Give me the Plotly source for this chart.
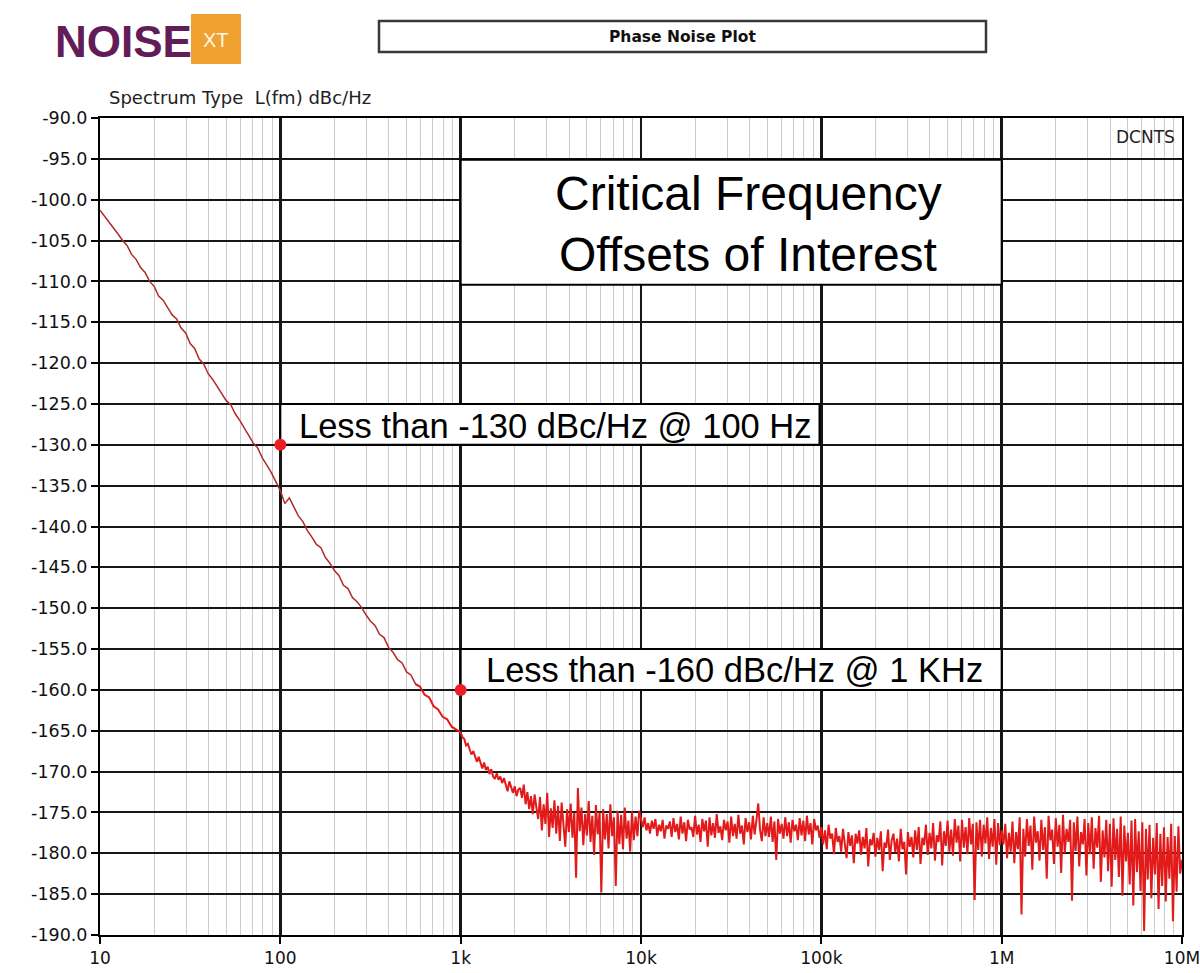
import numpy as np
import plotly.graph_objects as go

# ---------------- data ----------------
# L(fm) in dBc/Hz, sampled on an even log grid inside each decade
level_10_100 = [
    -101.3, -102.0, -102.8, -103.4, -104.2, -105.0, -105.6, -106.7, -107.3, -108.3,
    -108.9, -110.0, -110.6, -111.8, -112.3, -113.2, -114.1, -114.6, -115.7, -116.3,
    -117.6, -118.2, -119.5, -120.1, -121.3, -122.0, -122.9, -123.7, -124.6, -125.1,
    -126.2, -127.0, -127.9, -128.8, -129.8, -130.4, -131.6, -132.5, -133.4, -134.5,
]
level_100_1k = [
    -135.6, -137.2, -136.5, -137.6, -138.7, -139.4, -140.5, -141.3, -142.2, -142.6,
    -143.8, -144.5, -145.4, -146.0, -147.2, -147.6, -148.7, -149.2, -149.9, -150.8,
    -151.6, -152.1, -153.2, -153.6, -154.8, -155.4, -156.3, -156.7, -157.8, -158.2,
    -159.3, -159.6, -160.6, -160.9, -162.0, -162.4, -163.3, -163.6, -164.5, -164.8,
]
level_1k_10k = [
    -165.2, -165.8, -166.0, -166.8, -166.6, -167.3, -167.9, -167.5, -168.3, -168.8,
    -168.2, -169.0, -169.6, -168.9, -169.8, -169.4,
    -170.3, -169.7, -170.6, -170.9, -170.2, -171.0, -170.6, -171.4, -170.8, -171.6,
    -172.4, -171.2, -171.9, -172.6, -171.8, -173.0, -172.2, -172.0,
    -173.2, -171.6, -174.0, -172.5, -174.6, -173.0, -175.2, -172.8, -174.4,
    -175.8, -173.1, -177.2, -174.0, -176.4, -172.6, -178.0, -174.5, -176.9, -173.5,
    -177.6, -174.2, -178.5, -173.8, -176.2, -179.2, -174.6, -177.4,
    -173.9, -178.1, -175.0, -183.0, -172.0, -177.3, -174.4, -179.0, -175.2, -177.8,
    -173.6, -178.6, -175.4, -180.2, -174.1, -177.7, -175.0, -184.8, -174.6, -178.3,
    -175.2, -179.4, -174.0, -177.9, -175.6, -184.0, -174.8, -178.9, -175.3, -179.5,
    -174.4, -178.2, -176.0, -179.8, -174.9, -178.4, -175.5, -177.9, -174.8,
]
level_10k_100k = [
    -176.0, -176.8, -175.6, -177.2, -176.3, -177.6, -176.0, -177.0, -175.8, -177.9,
    -176.5, -177.3, -175.9, -178.2, -176.6, -177.0, -176.1, -178.0, -175.7, -177.4,
    -176.4, -178.3, -175.5, -177.6, -176.2, -178.5, -175.9, -177.1, -176.8, -178.0,
    -175.4, -177.7, -176.5, -178.6, -175.8, -177.3, -176.0, -179.2, -175.6, -177.8,
    -176.3, -178.1, -175.2, -177.5, -176.7, -178.4, -175.9, -177.2, -176.1, -178.7,
    -175.5, -177.9, -176.4, -178.2, -175.3, -177.6, -176.6, -178.9, -175.7, -177.4,
    -176.2, -178.3, -175.4, -177.7, -176.0, -173.9, -177.1, -178.5, -175.6, -177.9,
    -176.3, -178.0, -175.5, -178.6, -176.1, -180.8, -175.8, -177.6, -176.4, -178.2,
    -175.6, -177.9, -176.2, -178.7, -175.9, -177.3, -176.5, -178.4, -175.7, -177.8,
    -176.0, -178.5, -175.4, -177.7, -176.3, -178.9, -175.8, -177.2, -176.6, -178.1,
]
level_100k_1M = [
    -176.8, -178.9, -177.2, -179.5, -176.5, -178.2, -177.6, -180.1, -176.9, -178.6,
    -177.9, -179.8, -177.0, -178.5, -180.6, -177.4, -179.1, -177.8, -181.2, -177.6,
    -178.8, -177.2, -180.2, -178.0, -179.4, -176.9, -181.6, -178.3, -179.0, -177.5,
    -180.4, -178.1, -179.6, -177.3, -182.2, -178.7, -179.3, -177.1, -180.8, -178.4,
    -177.6, -179.9, -178.2, -181.0, -177.0, -179.5, -178.6, -182.6, -177.4, -179.2,
    -178.0, -180.5, -177.2, -179.6, -176.8, -181.3, -178.1, -179.0, -176.5, -180.2,
    -177.5, -179.4, -176.3, -180.9, -177.8, -178.6, -176.1, -181.5, -177.3, -179.1,
    -176.0, -179.8, -177.1, -180.3, -175.8, -178.7, -176.6, -181.0, -175.9, -179.3,
    -176.8, -180.1, -175.7, -178.9, -176.4, -185.7, -176.2, -179.6, -175.9, -180.4,
    -176.5, -178.8, -175.6, -180.7, -176.9, -179.2, -175.8, -181.4, -176.3, -179.0,
]
level_1M_10M = [
    -177.2, -178.9, -176.4, -180.6, -177.5, -179.8, -176.1, -181.2, -177.4, -179.5,
    -175.6, -187.5, -177.0, -180.4, -175.8, -179.1, -176.6, -182.0, -175.5, -178.7,
    -177.3, -180.9, -175.9, -179.6, -176.8, -183.1, -175.4, -178.4, -177.1, -181.3,
    -175.7, -179.2, -176.5, -182.4, -175.3, -180.0, -177.0, -178.6, -175.9, -185.8,
    -176.2, -179.7, -175.5, -181.6, -177.4, -178.9, -175.8, -182.7, -176.3, -180.1,
    -175.6, -181.9, -176.9, -179.3, -175.4, -183.5, -177.2, -180.5, -175.9, -182.2,
    -176.4, -184.1, -175.7, -180.8, -177.0, -182.9, -175.5, -185.2, -176.6, -181.0,
    -177.5, -183.8, -176.0, -186.4, -175.8, -182.3, -177.3, -184.6, -176.2, -189.5,
    -177.0, -183.2, -176.5, -185.5, -178.1, -182.6, -176.3, -186.8, -177.6, -184.0,
    -176.8, -185.9, -178.0, -183.1, -176.4, -188.3, -177.9, -184.7, -176.7, -182.5,
    -180.8,
]
decade_start = [1, 2, 3, 4, 5, 6]   # log10 of first frequency in each decade

spec_freq = [100, 1000]
spec_level = [-130, -160]
spec_text = ["Less than -130 dBc/Hz @ 100 Hz", "Less than -160 dBc/Hz @ 1 KHz"]

x_tickvals = [10, 100, 1e3, 1e4, 1e5, 1e6, 1e7]
x_ticktext = ["10", "100", "1k", "10k", "100k", "1M", "10M"]
y_tickvals = [-190, -185, -180, -175, -170, -165, -160, -155, -150, -145, -140,
              -135, -130, -125, -120, -115, -110, -105, -100, -95, -90]
y_ticktext = ["-190.0", "-185.0", "-180.0", "-175.0", "-170.0", "-165.0", "-160.0",
              "-155.0", "-150.0", "-145.0", "-140.0", "-135.0", "-130.0", "-125.0",
              "-120.0", "-115.0", "-110.0", "-105.0", "-100.0", "-95.0", "-90.0"]

# ---------------- build trace ----------------
segments = [level_10_100, level_100_1k, level_1k_10k, level_10k_100k,
            level_100k_1M, level_1M_10M]
freq, level = [], []
for start, vals in zip(decade_start, segments):
    n = len(vals) - 1 if start == decade_start[-1] else len(vals)
    f = 10 ** (start + np.arange(len(vals)) / n)
    freq.extend(f.tolist())
    level.extend(vals)
freq = np.array(freq)
level = np.array(level)
smooth = freq <= 600
noisy = freq >= 560

# ---------------- layout helpers ----------------
W, H = 1200, 973
L, R, T, B = 100, 1182, 118, 935          # plot area in page pixels
def px(x): return (x - L) / (R - L)
def py(y): return (B - y) / (B - T)

SANS = "Liberation Sans, Arial, sans-serif"
VERD = "DejaVu Sans, Verdana, sans-serif"

fig = go.Figure()
fig.add_trace(go.Scatter(x=freq[smooth], y=level[smooth], mode="lines",
                         line=dict(color="#b02a2a", width=1.5),
                         hoverinfo="skip", showlegend=False))
fig.add_trace(go.Scatter(x=freq[noisy], y=level[noisy], mode="lines",
                         line=dict(color="#e21a1a", width=2.0),
                         hoverinfo="skip", showlegend=False))
fig.add_trace(go.Scatter(x=spec_freq, y=spec_level, mode="markers",
                         marker=dict(color="#ee1c24", size=12),
                         showlegend=False))

shapes = []
# annotation boxes (axis data coordinates)
shapes.append(dict(type="rect", xref="x", yref="y", x0=1e3, x1=1e6, y0=-95.1, y1=-110.4,
                   line=dict(color="black", width=2), fillcolor="white", layer="between"))
shapes.append(dict(type="rect", xref="x", yref="y", x0=100, x1=97700, y0=-125, y1=-130,
                   line=dict(color="black", width=2), fillcolor="white", layer="between"))
shapes.append(dict(type="rect", xref="x", yref="y", x0=1e3, x1=1e6, y0=-155, y1=-160,
                   line=dict(color="black", width=2), fillcolor="white", layer="between"))
# title box
shapes.append(dict(type="rect", xref="paper", yref="paper",
                   x0=px(379), x1=px(986), y0=py(52), y1=py(21),
                   line=dict(color="#3a3a3a", width=2.5), fillcolor="white"))
# XT logo box
shapes.append(dict(type="rect", xref="paper", yref="paper",
                   x0=px(191), x1=px(241), y0=py(64), y1=py(14),
                   line=dict(width=0), fillcolor="#f0a02e"))

ann = []
ann.append(dict(text="Critical Frequency", x=px(748), y=py(193), font=dict(family=SANS, size=48, color="black")))
ann.append(dict(text="Offsets of Interest", x=px(748), y=py(255), font=dict(family=SANS, size=48, color="black")))
ann.append(dict(text=spec_text[0], x=px(297), y=py(426), xanchor="left",
                font=dict(family=SANS, size=34.5, color="black")))
ann.append(dict(text=spec_text[1], x=px(484), y=py(670), xanchor="left",
                font=dict(family=SANS, size=34.5, color="black")))
ann.append(dict(text="<b>Phase Noise Plot</b>", x=px(682), y=py(37),
                font=dict(family=VERD, size=15.5, color="#111")))
ann.append(dict(text="Spectrum Type\u00a0\u00a0L(fm) dBc/Hz", x=px(107), y=py(97), xanchor="left",
                font=dict(family=VERD, size=18, color="#222")))
ann.append(dict(text="DCNTS", x=px(1177), y=py(137), xanchor="right",
                font=dict(family=VERD, size=17, color="#222")))
ann.append(dict(text="<b>NOISE</b>", x=px(53), y=py(41), xanchor="left",
                font=dict(family=SANS, size=44, color="#621c58")))
ann.append(dict(text="XT", x=px(216), y=py(40),
                font=dict(family=SANS, size=20, color="#fff6e6")))
for a in ann:
    a.setdefault("xanchor", "center")
    a.update(xref="paper", yref="paper", yanchor="middle", showarrow=False)

fig.update_layout(
    width=W, height=H,
    margin=dict(l=L, r=W - R, t=T, b=H - B, pad=0, autoexpand=False),
    paper_bgcolor="white", plot_bgcolor="white",
    shapes=shapes, annotations=ann,
    xaxis=dict(type="log", range=[1, 7], tickmode="array",
               tickvals=x_tickvals, ticktext=x_ticktext,
               showgrid=True, gridcolor="#161616", gridwidth=2.5,
               minor=dict(dtick="D1", showgrid=True, gridcolor="#cbcbcb", gridwidth=1, ticks=""),
               showline=True, linecolor="black", linewidth=2, mirror=True,
               ticks="outside", ticklen=7, tickwidth=2, tickcolor="black",
               tickfont=dict(family=VERD, size=17, color="#111"),
               automargin=False, ticklabeloverflow="allow",
               zeroline=False),
    yaxis=dict(range=[-190, -90], tickmode="array",
               tickvals=y_tickvals, ticktext=y_ticktext,
               showgrid=True, gridcolor="#161616", gridwidth=2,
               showline=True, linecolor="black", linewidth=2, mirror=True,
               ticks="outside", ticklen=7, tickwidth=2, tickcolor="black",
               tickfont=dict(family=VERD, size=17.5, color="#111"),
               automargin=False, ticklabeloverflow="allow",
               zeroline=False),
)

# remove the default 8px page margin so the 1200x973 figure fills the window
fig.write_html("out.html",
               config={"displayModeBar": False, "staticPlot": True},
               post_script="document.body.style.margin='0px';document.body.style.overflow='hidden';")
